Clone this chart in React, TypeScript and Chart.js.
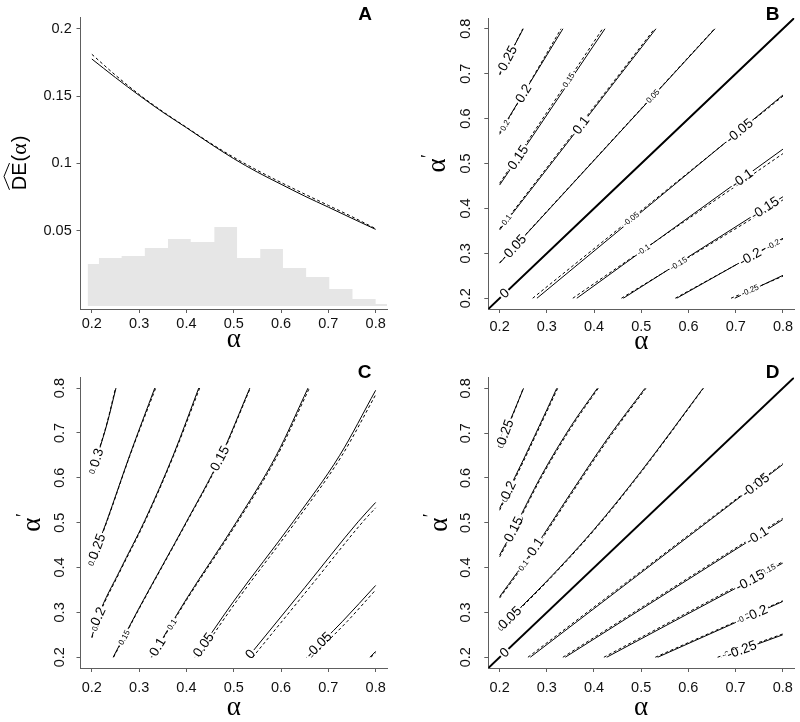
import React, { useEffect, useRef } from 'react';
import { Chart, registerables } from 'chart.js';

Chart.register(...registerables);

type Pt = [number, number];
type Line = Pt[];
type Lbl = [string, number, number];

// ---------- shared axis data ----------
const AXIS_MIN = 0.176;
const AXIS_MAX = 0.824;
const alphaTicks = [0.2, 0.3, 0.4, 0.5, 0.6, 0.7, 0.8];
const alphaTickLabels = ['0.2', '0.3', '0.4', '0.5', '0.6', '0.7', '0.8'];

// ---------- panel A ----------
const deTicks = [0.05, 0.1, 0.15, 0.2];
const deTickLabels = ['0.05', '0.1', '0.15', '0.2'];
const deAlpha = [0.2, 0.25, 0.3, 0.35, 0.4, 0.45, 0.5, 0.55, 0.6, 0.65, 0.7, 0.75, 0.8];
const deSolid = [0.1775, 0.1637, 0.1505, 0.138, 0.1265, 0.1147, 0.1035, 0.0935, 0.0845, 0.0757, 0.0675, 0.0592, 0.051];
const deDashed = [0.181, 0.1655, 0.1512, 0.1385, 0.1268, 0.1152, 0.1045, 0.0948, 0.0858, 0.0772, 0.0688, 0.0604, 0.0515];
const histEdges = [0.191, 0.215, 0.263, 0.312, 0.361, 0.409, 0.459, 0.507, 0.556, 0.604, 0.653, 0.702, 0.751, 0.8, 0.824];
const histCounts = [42, 48, 50, 58, 67, 64, 79, 48, 57, 38, 29, 17, 7, 2];

// ---------- identity line (B, D) ----------
const diagonal: Line = [[AXIS_MIN, AXIS_MIN], [AXIS_MAX, AXIS_MAX]];

// ---------- panel B ----------
const bSolid: Line[] = [
  [[0.2, 0.7], [0.25, 0.8]],
  [[0.2, 0.569], [0.334, 0.8]],
  [[0.2, 0.452], [0.423, 0.8]],
  [[0.2, 0.352], [0.531, 0.8]],
  [[0.2, 0.278], [0.656, 0.8]],
  [[0.279, 0.2], [0.8, 0.6525]],
  [[0.3635, 0.2], [0.8, 0.532]],
  [[0.462, 0.2], [0.8, 0.426]],
  [[0.575, 0.2], [0.8, 0.3335]],
  [[0.698, 0.2], [0.8, 0.251]],
];
const bDashed: Line[] = [
  [[0.2, 0.697], [0.249, 0.8]],
  [[0.2, 0.565], [0.33, 0.8]],
  [[0.2, 0.456], [0.418, 0.8]],
  [[0.2, 0.355], [0.528, 0.8]],
  [[0.2, 0.279], [0.655, 0.8]],
  [[0.27, 0.2], [0.8, 0.65]],
  [[0.355, 0.2], [0.8, 0.522]],
  [[0.458, 0.2], [0.8, 0.419]],
  [[0.572, 0.2], [0.8, 0.332]],
  [[0.69, 0.2], [0.8, 0.249]],
];
const bSolidLabels: Lbl[] = [
  ['0.25', 0.2155, 0.735], ['0.2', 0.2501, 0.656], ['0.15', 0.2366, 0.515], ['0.1', 0.3705, 0.587],
  ['0.05', 0.2326, 0.316], ['0', 0.2106, 0.2106], ['-0.05', 0.7088, 0.571], ['-0.1', 0.7158, 0.4634],
  ['-0.15', 0.7617, 0.4003], ['-0.2', 0.73, 0.2935],
];
const bDashedLabels: Lbl[] = [
  ['0.2', 0.2114, 0.585], ['0.15', 0.346, 0.686], ['0.1', 0.2155, 0.374], ['0.05', 0.5256, 0.649],
  ['-0.05', 0.4798, 0.374], ['-0.1', 0.5044, 0.308], ['-0.15', 0.5784, 0.278], ['-0.2', 0.779, 0.32],
  ['-0.25', 0.73, 0.2185],
];

// ---------- panel C ----------
const cSolid: Line[] = [
  [[0.2, 0.61], [0.215, 0.66], [0.232, 0.72], [0.251, 0.8]],
  [[0.2, 0.415], [0.231, 0.502], [0.28, 0.65], [0.333, 0.8]],
  [[0.2, 0.245], [0.213, 0.29], [0.26, 0.395], [0.312, 0.505], [0.372, 0.65], [0.426, 0.8]],
  [[0.245, 0.2], [0.3, 0.31], [0.4, 0.502], [0.4706, 0.643], [0.534, 0.8]],
  [[0.326, 0.2], [0.4, 0.33], [0.506, 0.502], [0.59, 0.65], [0.657, 0.8]],
  [[0.418, 0.2], [0.5, 0.325], [0.6256, 0.502], [0.724, 0.65], [0.8, 0.795]],
  [[0.53, 0.2], [0.65, 0.355], [0.763, 0.502], [0.8, 0.545]],
  [[0.654, 0.2], [0.73, 0.28], [0.8, 0.36]],
  [[0.788, 0.2], [0.8, 0.213]],
];
const cDashed: Line[] = [
  [[0.2, 0.612], [0.215, 0.662], [0.232, 0.722], [0.25, 0.8]],
  [[0.2, 0.413], [0.231, 0.5], [0.28, 0.648], [0.335, 0.8]],
  [[0.2, 0.243], [0.213, 0.287], [0.26, 0.392], [0.312, 0.502], [0.372, 0.647], [0.428, 0.8]],
  [[0.246, 0.2], [0.3, 0.308], [0.4, 0.5], [0.4706, 0.64], [0.535, 0.8]],
  [[0.327, 0.2], [0.4, 0.327], [0.506, 0.498], [0.59, 0.645], [0.66, 0.8]],
  [[0.424, 0.2], [0.506, 0.325], [0.631, 0.502], [0.729, 0.65], [0.8, 0.785]],
  [[0.54, 0.2], [0.66, 0.355], [0.773, 0.502], [0.8, 0.533]],
  [[0.664, 0.2], [0.74, 0.28], [0.8, 0.35]],
  [[0.79, 0.2], [0.8, 0.21]],
];
const cSolidLabels: Lbl[] = [
  ['0.3', 0.209, 0.645], ['0.25', 0.2099, 0.447], ['0.2', 0.2134, 0.291], ['0.15', 0.4706, 0.643],
  ['0.1', 0.337, 0.224], ['0.05', 0.4354, 0.228], ['0', 0.5305, 0.211], ['-0.05', 0.675, 0.232],
];
const cDashedLabels: Lbl[] = [
  ['0.3', 0.203, 0.621], ['0.25', 0.204, 0.42], ['0.2', 0.205, 0.272], ['0.15', 0.27, 0.243],
  ['0.1', 0.3755, 0.269],
];

// ---------- panel D ----------
const dSolid: Line[] = [
  [[0.2, 0.667], [0.212, 0.702], [0.229, 0.745], [0.2507, 0.8]],
  [[0.2, 0.532], [0.25, 0.64], [0.3, 0.752], [0.321, 0.8]],
  [[0.2, 0.428], [0.229, 0.484], [0.2888, 0.606], [0.352, 0.717], [0.407, 0.8]],
  [[0.2, 0.335], [0.275, 0.445], [0.35, 0.565], [0.43, 0.69], [0.508, 0.8]],
  [[0.2, 0.265], [0.3, 0.37], [0.4, 0.485], [0.5, 0.615], [0.631, 0.8]],
  [[0.265, 0.2], [0.8, 0.63]],
  [[0.339, 0.2], [0.8, 0.507]],
  [[0.427, 0.2], [0.8, 0.41]],
  [[0.535, 0.2], [0.8, 0.3244]],
  [[0.67, 0.2], [0.8, 0.25]],
];
const dDashed: Line[] = [
  [[0.2, 0.665], [0.212, 0.7], [0.229, 0.743], [0.25, 0.8]],
  [[0.2, 0.528], [0.25, 0.636], [0.3, 0.748], [0.323, 0.8]],
  [[0.2, 0.424], [0.229, 0.48], [0.2888, 0.602], [0.352, 0.713], [0.409, 0.8]],
  [[0.2, 0.332], [0.275, 0.441], [0.35, 0.561], [0.43, 0.686], [0.51, 0.8]],
  [[0.2, 0.263], [0.3, 0.368], [0.4, 0.483], [0.5, 0.613], [0.632, 0.8]],
  [[0.26, 0.2], [0.8, 0.632]],
  [[0.334, 0.2], [0.8, 0.51]],
  [[0.421, 0.2], [0.8, 0.413]],
  [[0.53, 0.2], [0.8, 0.326]],
  [[0.662, 0.2], [0.8, 0.252]],
];
const dSolidLabels: Lbl[] = [
  ['0.25', 0.212, 0.702], ['0.2', 0.219, 0.5726], ['0.15', 0.233, 0.4837], ['0.1', 0.2754, 0.4467],
  ['0.05', 0.219, 0.291], ['0', 0.2106, 0.2106], ['-0.05', 0.7405, 0.587], ['-0.1', 0.7405, 0.48],
  ['-0.15', 0.73, 0.3726], ['-0.2', 0.7405, 0.306], ['-0.25', 0.709, 0.228],
];
const dDashedLabels: Lbl[] = [
  ['0.25', 0.205, 0.684], ['0.2', 0.2085, 0.5615], ['0.15', 0.24, 0.4985], ['0.1', 0.2437, 0.41],
  ['0.05', 0.2085, 0.276], ['-0.05', 0.744, 0.5985], ['-0.15', 0.772, 0.384], ['-0.2', 0.716, 0.2874],
  ['-0.25', 0.688, 0.217],
];

// ---------- styling ----------
const SANS = "'Liberation Sans', Arial, Helvetica, sans-serif";
const SERIF = "'Liberation Serif', 'DejaVu Serif', 'Times New Roman', serif";
const AXIS_COLOR = '#5e5e5e';
const TICK_TEXT = '#111111';
const TICK_FONT = 14.5;
const TICK_LEN = 4;

const toXY = (pts: Line) => pts.map(([x, y]) => ({ x, y }));

function lineDatasets(lines: Line[], dashed: boolean, width = 1) {
  return lines.map((pts) => ({
    data: toXY(pts),
    borderColor: '#000',
    borderWidth: width,
    borderDash: dashed ? [3, 2.5] : [],
    pointRadius: 0,
    fill: false,
    cubicInterpolationMode: 'monotone' as const,
    order: 0,
  }));
}

function xScale(height: number, pad: number) {
  return {
    type: 'linear',
    position: 'bottom',
    min: AXIS_MIN,
    max: AXIS_MAX,
    afterBuildTicks: (s: any) => {
      s.ticks = alphaTicks.map((v) => ({ value: v }));
    },
    afterFit: (s: any) => {
      s.height = height;
    },
    ticks: {
      autoSkip: false,
      maxRotation: 0,
      minRotation: 0,
      padding: pad,
      color: TICK_TEXT,
      font: { family: SANS, size: TICK_FONT },
      callback: (v: number) => alphaTickLabels[alphaTicks.indexOf(v)] ?? '',
    },
    grid: { drawOnChartArea: false, drawTicks: true, tickLength: TICK_LEN, color: AXIS_COLOR, lineWidth: 1 },
    border: { display: true, color: AXIS_COLOR, width: 1 },
  };
}

function yAlphaScale(width: number, pad: number) {
  return {
    type: 'linear',
    position: 'left',
    min: AXIS_MIN,
    max: AXIS_MAX,
    afterBuildTicks: (s: any) => {
      s.ticks = alphaTicks.map((v) => ({ value: v }));
    },
    afterFit: (s: any) => {
      s.width = width;
    },
    ticks: {
      autoSkip: false,
      minRotation: 90,
      maxRotation: 90,
      crossAlign: 'center',
      padding: pad,
      color: TICK_TEXT,
      font: { family: SANS, size: TICK_FONT },
      callback: (v: number) => alphaTickLabels[alphaTicks.indexOf(v)] ?? '',
    },
    grid: { drawOnChartArea: false, drawTicks: true, tickLength: TICK_LEN, color: AXIS_COLOR, lineWidth: 1 },
    border: { display: true, color: AXIS_COLOR, width: 1 },
  };
}

function drawLabels(chart: any, lines: Line[], labels: Lbl[], size: number) {
  const { ctx, scales } = chart;
  const xs = scales.x;
  const ys = scales.y;
  ctx.save();
  ctx.font = `${size}px ${SANS}`;
  for (const [text, lx, ly] of labels) {
    const px = xs.getPixelForValue(lx);
    const py = ys.getPixelForValue(ly);
    let best = { d: Infinity, x: px, y: py, a: 0 };
    for (const line of lines) {
      for (let i = 0; i < line.length - 1; i++) {
        const ax = xs.getPixelForValue(line[i][0]);
        const ay = ys.getPixelForValue(line[i][1]);
        const bx = xs.getPixelForValue(line[i + 1][0]);
        const by = ys.getPixelForValue(line[i + 1][1]);
        const dx = bx - ax;
        const dy = by - ay;
        const l2 = dx * dx + dy * dy;
        let t = l2 ? ((px - ax) * dx + (py - ay) * dy) / l2 : 0;
        t = Math.max(0, Math.min(1, t));
        const qx = ax + t * dx;
        const qy = ay + t * dy;
        const d = (qx - px) ** 2 + (qy - py) ** 2;
        if (d < best.d) best = { d, x: qx, y: qy, a: Math.atan2(dy, dx) };
      }
    }
    let a = best.a;
    if (a > Math.PI / 2) a -= Math.PI;
    if (a < -Math.PI / 2) a += Math.PI;
    ctx.save();
    ctx.translate(best.x, best.y);
    ctx.rotate(a);
    const w = ctx.measureText(text).width;
    ctx.fillStyle = '#ffffff';
    ctx.fillRect(-w / 2 - 1.5, -2.5, w + 3, 5);
    ctx.fillStyle = '#000';
    ctx.textAlign = 'center';
    ctx.textBaseline = 'middle';
    ctx.fillText(text, 0, 0.5);
    ctx.restore();
  }
  ctx.restore();
}

interface Frame {
  letter: string;
  letterX: number;
  letterY: number;
  xTitleY: number;
  yTitleOffset: number;
}

function drawFrameText(chart: any, f: Frame, deTitle: boolean) {
  const { ctx, chartArea } = chart;
  ctx.save();
  ctx.fillStyle = '#000';
  // panel letter
  ctx.font = `bold 19px ${SANS}`;
  ctx.textAlign = 'center';
  ctx.textBaseline = 'alphabetic';
  ctx.fillText(f.letter, f.letterX, f.letterY);
  // x title
  ctx.font = `27px ${SERIF}`;
  ctx.fillText('α', (chartArea.left + chartArea.right) / 2, f.xTitleY);
  // y title
  const cy = (chartArea.top + chartArea.bottom) / 2;
  ctx.translate(chartArea.left - f.yTitleOffset, cy);
  ctx.rotate(-Math.PI / 2);
  ctx.textAlign = 'left';
  if (deTitle) {
    ctx.font = `20px ${SANS}`;
    const wDE = ctx.measureText('DE').width;
    const wP = ctx.measureText('(').width;
    ctx.font = `22px ${SERIF}`;
    const wA = ctx.measureText('α').width;
    const total = wDE + wP * 2 + wA + 2;
    const x0 = -total / 2;
    ctx.font = `20px ${SANS}`;
    ctx.fillText('DE', x0, 0);
    ctx.fillText('(', x0 + wDE + 1, 0);
    ctx.font = `22px ${SERIF}`;
    ctx.fillText('α', x0 + wDE + 1 + wP, 0);
    ctx.font = `20px ${SANS}`;
    ctx.fillText(')', x0 + wDE + 1 + wP + wA + 1, 0);
    ctx.strokeStyle = '#000';
    ctx.lineWidth = 1;
    ctx.beginPath();
    ctx.moveTo(x0 + 0.5, -16.5);
    ctx.lineTo(x0 + wDE / 2, -22);
    ctx.lineTo(x0 + wDE - 0.5, -16.5);
    ctx.stroke();
  } else {
    ctx.font = `27px ${SERIF}`;
    const wA = ctx.measureText('α').width;
    ctx.font = `18px ${SERIF}`;
    const wPr = ctx.measureText('′').width;
    const x0 = -(wA + wPr) / 2;
    ctx.font = `27px ${SERIF}`;
    ctx.fillText('α', x0, 0);
    ctx.font = `18px ${SERIF}`;
    ctx.fillText('′', x0 + wA + 0.5, -11);
  }
  ctx.restore();
}

function buildA() {
  const histData = histEdges.map((e, i) => ({ x: e, y: histCounts[Math.min(i, histCounts.length - 1)] }));
  const frame: Frame = { letter: 'A', letterX: 365, letterY: 20, xTitleY: 347, yTitleOffset: 54.5 };
  return {
    type: 'line',
    data: {
      datasets: [
        {
          data: histData,
          yAxisID: 'y2',
          stepped: 'before',
          fill: 'origin',
          backgroundColor: '#e6e6e6',
          borderColor: 'rgba(0,0,0,0)',
          borderWidth: 0,
          pointRadius: 0,
          order: 10,
        },
        {
          data: deAlpha.map((x, i) => ({ x, y: deDashed[i] })),
          borderColor: '#000',
          borderWidth: 1,
          borderDash: [3, 2.5],
          pointRadius: 0,
          fill: false,
          cubicInterpolationMode: 'monotone',
          order: 0,
        },
        {
          data: deAlpha.map((x, i) => ({ x, y: deSolid[i] })),
          borderColor: '#000',
          borderWidth: 1,
          pointRadius: 0,
          fill: false,
          cubicInterpolationMode: 'monotone',
          order: 0,
        },
      ],
    },
    options: {
      animation: false,
      responsive: false,
      devicePixelRatio: 1,
      events: [],
      layout: { padding: { left: 0, top: 17, right: 13, bottom: 0 } },
      plugins: { legend: { display: false }, tooltip: { enabled: false } },
      scales: {
        x: xScale(52, 2.3),
        y: {
          type: 'linear',
          position: 'left',
          min: -0.00814,
          max: 0.2087,
          afterBuildTicks: (s: any) => {
            s.ticks = deTicks.map((v) => ({ value: v }));
          },
          afterFit: (s: any) => {
            s.width = 80.5;
          },
          ticks: {
            autoSkip: false,
            padding: 4.8,
            color: TICK_TEXT,
            font: { family: SANS, size: TICK_FONT },
            callback: (v: number) => deTickLabels[deTicks.indexOf(v)] ?? '',
          },
          grid: { drawOnChartArea: false, drawTicks: true, tickLength: TICK_LEN, color: AXIS_COLOR, lineWidth: 1 },
          border: { display: true, color: AXIS_COLOR, width: 1 },
        },
        y2: { type: 'linear', display: false, min: -3, max: 289 },
      },
    },
    plugins: [
      {
        id: 'overlayA',
        afterDraw: (chart: any) => drawFrameText(chart, frame, true),
      },
    ],
  };
}

function buildContour(
  solid: Line[],
  dashed: Line[],
  solidLabels: Lbl[],
  dashedLabels: Lbl[],
  withDiagonal: boolean,
  frame: Frame,
  geom: { top: number; right: number; yWidth: number; xHeight: number; xPad: number; yPad: number },
) {
  const datasets: any[] = [...lineDatasets(dashed, true), ...lineDatasets(solid, false)];
  if (withDiagonal) datasets.push(...lineDatasets([diagonal], false, 2));
  const solidSet = withDiagonal ? [...solid, diagonal] : solid;
  return {
    type: 'line',
    data: { datasets },
    options: {
      animation: false,
      responsive: false,
      devicePixelRatio: 1,
      events: [],
      layout: { padding: { left: 0, top: geom.top, right: geom.right, bottom: 0 } },
      plugins: { legend: { display: false }, tooltip: { enabled: false } },
      scales: {
        x: xScale(geom.xHeight, geom.xPad),
        y: yAlphaScale(geom.yWidth, geom.yPad),
      },
    },
    plugins: [
      {
        id: 'overlayContour',
        afterDraw: (chart: any) => {
          drawLabels(chart, dashed, dashedLabels, 8);
          drawLabels(chart, solidSet, solidLabels, 13.5);
          drawFrameText(chart, frame, false);
        },
      },
    ],
  };
}

function Panel({ build, left, top }: { build: () => any; left: number; top: number }) {
  const ref = useRef<HTMLCanvasElement | null>(null);
  useEffect(() => {
    if (!ref.current) return;
    const chart = new Chart(ref.current, build());
    return () => chart.destroy();
  }, []);
  return (
    <canvas
      ref={ref}
      width={400}
      height={361}
      style={{ position: 'absolute', left, top, width: 400, height: 361, display: 'block' }}
    />
  );
}

export default function App() {
  return (
    <div style={{ position: 'absolute', left: 0, top: 0, width: 800, height: 722, background: '#fff' }}>
      <Panel left={0} top={0} build={buildA} />
      <Panel
        left={400}
        top={0}
        build={() =>
          buildContour(bSolid, bDashed, bSolidLabels, bDashedLabels, true,
            { letter: 'B', letterX: 372.5, letterY: 20, xTitleY: 349, yTitleOffset: 43 },
            { top: 18, right: 5.7, yWidth: 88.3, xHeight: 52, xPad: 5, yPad: 7.9 })
        }
      />
      <Panel
        left={0}
        top={361}
        build={() =>
          buildContour(cSolid, cDashed, cSolidLabels, cDashedLabels, false,
            { letter: 'C', letterX: 364.5, letterY: 17, xTitleY: 354, yTitleOffset: 40.5 },
            { top: 16.3, right: 13, yWidth: 80.5, xHeight: 54, xPad: 7, yPad: 6.4 })
        }
      />
      <Panel
        left={400}
        top={361}
        build={() =>
          buildContour(dSolid, dDashed, dSolidLabels, dDashedLabels, true,
            { letter: 'D', letterX: 372.5, letterY: 17, xTitleY: 354, yTitleOffset: 41.5 },
            { top: 16.3, right: 5.7, yWidth: 88.3, xHeight: 54, xPad: 7, yPad: 7.9 })
        }
      />
    </div>
  );
}
